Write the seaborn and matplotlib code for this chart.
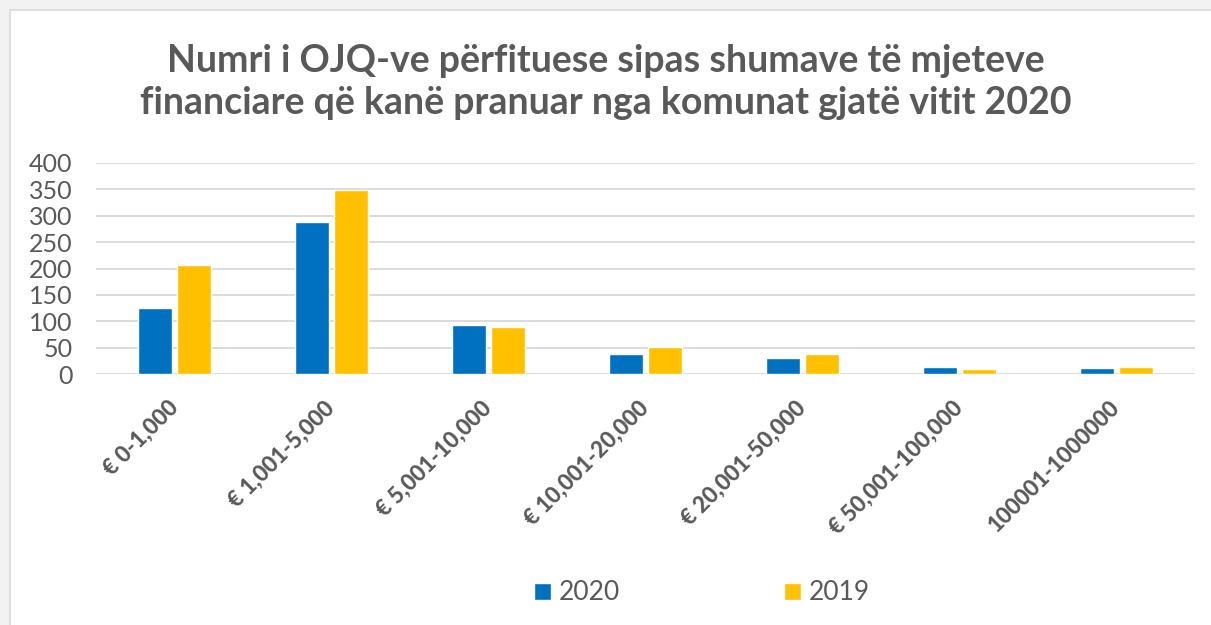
import pandas as pd
import matplotlib
matplotlib.use("Agg")
import matplotlib.pyplot as plt
import seaborn as sns
from matplotlib.patches import Rectangle

# Chart data
categories = ["€ 0-1,000", "€ 1,001-5,000", "€ 5,001-10,000", "€ 10,001-20,000",
              "€ 20,001-50,000", "€ 50,001-100,000", "100001-1000000"]
values_2020 = [126, 288, 93, 38, 30, 14, 12]
values_2019 = [206, 348, 90, 52, 38, 10, 14]
years = ["2020", "2019"]
title = ("Numri i OJQ-ve përfituese sipas shumave të mjeteve\n"
         "financiare që kanë pranuar nga komunat gjatë vitit 2020")

df = pd.DataFrame({
    "Kategoria": categories * 2,
    "Viti": [years[0]] * len(categories) + [years[1]] * len(categories),
    "Numri": values_2020 + values_2019,
})

sns.set_theme(style="white")
plt.rcParams["font.family"] = ["Lato", "DejaVu Sans"]
text_color = "#595959"

fig = plt.figure(figsize=(12.11, 6.25), dpi=100)
fig.patch.set_facecolor("#f2f2f2")
# white card with a thin border
fig.patches.append(Rectangle((10 / 1211, -0.1), 1.1, 1.1 - 10 / 625,
                             transform=fig.transFigure, facecolor="white",
                             edgecolor="#d9d9d9", linewidth=1.2, zorder=-5))

ax = fig.add_axes([96 / 1211, 1 - 374 / 625, (1195 - 96) / 1211, (374 - 163) / 625])
ax.set_zorder(2)
ax.set_facecolor("none")

sns.barplot(data=df, x="Kategoria", y="Numri", hue="Viti",
            palette={"2020": "#0070C0", "2019": "#FFC000"}, saturation=1,
            width=0.5, gap=0.12, ax=ax, zorder=3)

ax.set_ylim(0, 400)
ax.set_xlim(-0.5, len(categories) - 0.5)
ax.set_yticks(range(0, 401, 50))
ax.yaxis.grid(True, color="#d9d9d9", linewidth=1.3)
ax.set_axisbelow(True)
for s in ax.spines.values():
    s.set_visible(False)
ax.set_xlabel("")
ax.set_ylabel("")
ax.tick_params(axis="y", length=0, pad=17, labelsize=18, labelcolor=text_color)
ax.tick_params(axis="x", length=0, pad=22, labelcolor=text_color)
ax.set_xticks(range(len(categories)), categories)
for lbl in ax.get_xticklabels():
    lbl.set(rotation=45, ha="right", va="center", rotation_mode="anchor",
            fontsize=16, fontweight=900, color=text_color)

fig.text(0.5, 1 - 82 / 625, title, ha="center", va="center", fontsize=27,
         fontweight="bold", color=text_color, linespacing=1.25, zorder=3)

ax.legend_.remove()
handles, labels = ax.get_legend_handles_labels()
fig.legend(handles, labels, loc="center", bbox_to_anchor=(702 / 1211, 1 - 593 / 625),
           ncol=2, frameon=False, fontsize=19, labelcolor=text_color,
           handlelength=0.64, handleheight=0.64, handletextpad=0.3,
           columnspacing=6.2)

fig.savefig("out.png", dpi=100, facecolor=fig.get_facecolor())
